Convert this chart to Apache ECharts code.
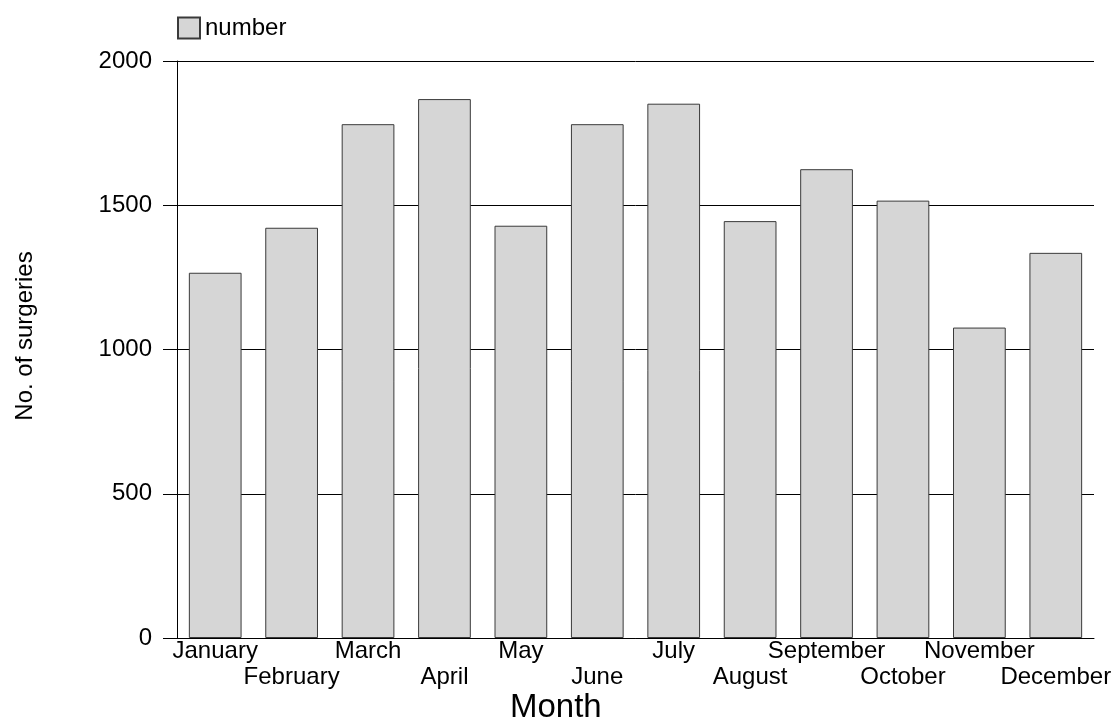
<!DOCTYPE html>
<html>
<head>
<meta charset="utf-8">
<script src="https://cdn.jsdelivr.net/npm/echarts@6/dist/echarts.min.js"></script>
<style>
html,body{margin:0;padding:0;background:#fff;}
#chart{width:1115px;height:720px;}
</style>
</head>
<body>
<div id="chart"></div>
<script>
const months = ['January','February','March','April','May','June','July','August','September','October','November','December'];
const numberValues = [1266, 1422, 1781, 1868, 1429, 1781, 1852, 1445, 1625, 1516, 1076, 1335];
const yTicks = [0, 500, 1000, 1500, 2000];
const seriesName = 'number';
const xTitle = 'Month';
const yTitle = 'No. of surgeries';

const FONT = '"Liberation Sans", Arial, sans-serif';
const chart = echarts.init(document.getElementById('chart'), null, {renderer: 'canvas'});
chart.setOption({
  animation: false,
  backgroundColor: '#ffffff',
  textStyle: {fontFamily: FONT, color: '#000'},
  legend: {
    left: 177, top: 16, padding: 0,
    itemWidth: 22, itemHeight: 21, itemGap: 10,
    icon: 'rect',
    data: [seriesName],
    textStyle: {fontFamily: FONT, fontSize: 24, color: '#000'}
  },
  grid: {left: 177, right: 21, top: 61, bottom: 82, containLabel: false},
  xAxis: {
    type: 'category',
    data: months,
    axisLine: {show: true, lineStyle: {color: '#000', width: 1}},
    axisTick: {show: false},
    axisLabel: {
      interval: 0,
      margin: 0,
      fontFamily: FONT,
      fontSize: 24,
      lineHeight: 26,
      color: '#000',
      verticalAlign: 'top',
      formatter: function (v, i) { return i % 2 === 1 ? '\n' + v : v; }
    }
  },
  yAxis: {
    type: 'value',
    min: yTicks[0],
    max: yTicks[yTicks.length - 1],
    interval: 500,
    axisLine: {show: true, lineStyle: {color: '#000', width: 1}},
    axisTick: {show: true, inside: false, length: 14, lineStyle: {color: '#000', width: 1}},
    axisLabel: {margin: 25, fontFamily: FONT, fontSize: 24, color: '#000',
      formatter: function (v) { return String(v); }},
    splitLine: {show: true, lineStyle: {color: '#000', width: 1}}
  },
  graphic: [
    {
      type: 'text', left: 510, top: 691,
      style: {text: xTitle, font: '33px ' + FONT, fill: '#000'}
    },
    {
      type: 'text', x: 25, y: 336, rotation: Math.PI / 2,
      style: {text: yTitle, font: '24px ' + FONT, fill: '#000', align: 'center', verticalAlign: 'middle'}
    }
  ],
  series: [{
    name: seriesName,
    type: 'bar',
    data: numberValues,
    barWidth: '69%',
    itemStyle: {color: '#d6d6d6', borderColor: '#3a3a3a', borderWidth: 1}
  }]
});
</script>
</body>
</html>
